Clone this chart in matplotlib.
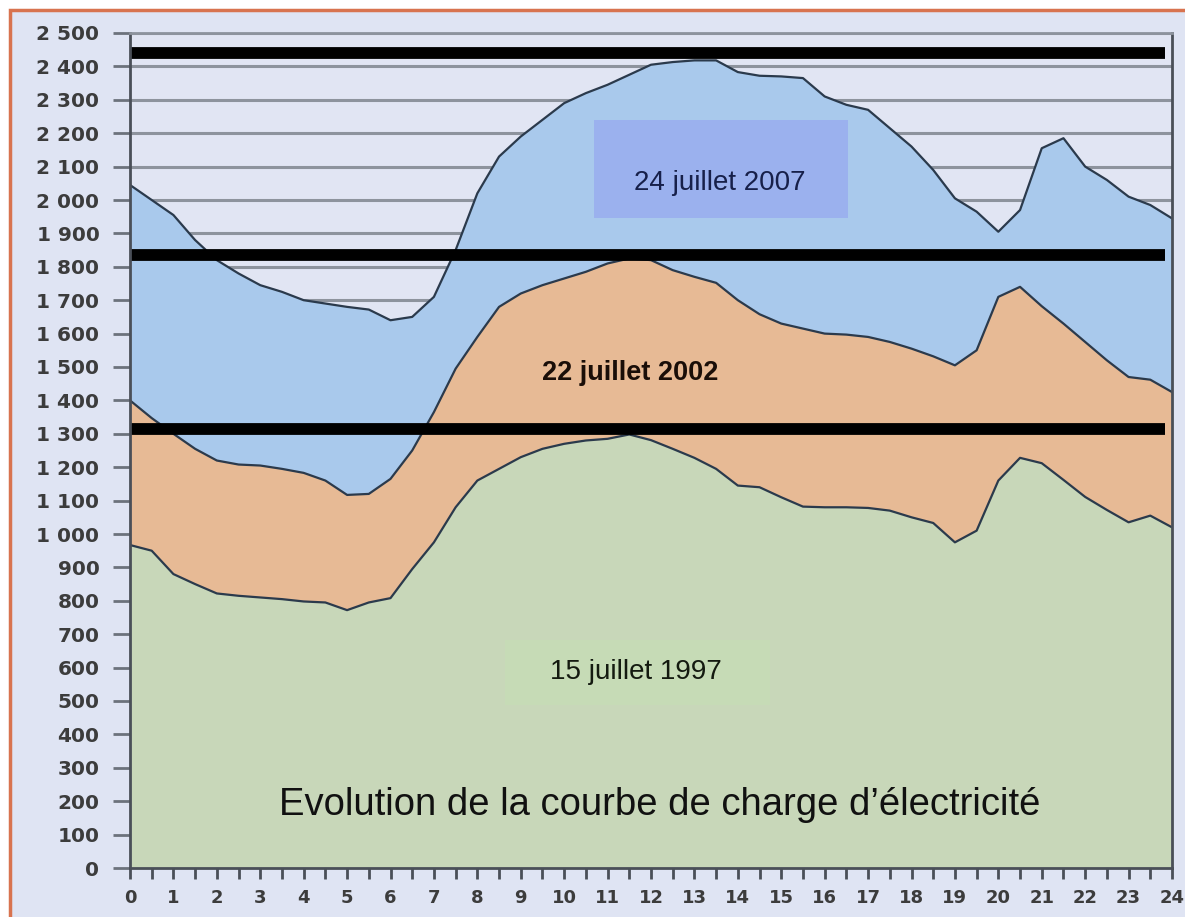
import numpy as np
import matplotlib
matplotlib.use("Agg")
import matplotlib.pyplot as plt
from matplotlib.patches import Rectangle


# -----------------------------------DATA---------------------------------------

hours = np.arange(0, 24.5, 0.5)

load_2007 = [2045, 2000, 1955, 1880, 1820, 1780, 1745, 1725, 1700, 1690,
             1680, 1672, 1640, 1650, 1710, 1850, 2020, 2130, 2190, 2240,
             2290, 2320, 2345, 2375, 2405, 2413, 2418, 2418, 2383, 2372,
             2370, 2365, 2310, 2285, 2270, 2215, 2160, 2090, 2005, 1965,
             1905, 1970, 2155, 2185, 2100, 2060, 2010, 1985, 1945]

load_2002 = [1400, 1347, 1300, 1255, 1220, 1208, 1205, 1195, 1183, 1160,
             1117, 1120, 1165, 1250, 1365, 1495, 1590, 1680, 1720, 1745,
             1765, 1785, 1810, 1825, 1820, 1790, 1770, 1752, 1700, 1658,
             1630, 1615, 1600, 1597, 1590, 1575, 1555, 1532, 1505, 1550,
             1710, 1740, 1682, 1630, 1575, 1520, 1470, 1462, 1425]

load_1997 = [967, 950, 880, 850, 822, 815, 810, 805, 798, 795,
             772, 795, 808, 895, 975, 1080, 1160, 1195, 1230, 1255,
             1270, 1280, 1285, 1298, 1281, 1255, 1228, 1195, 1145, 1140,
             1110, 1082, 1080, 1080, 1078, 1070, 1050, 1033, 975, 1010,
             1160, 1228, 1212, 1162, 1111, 1072, 1035, 1055, 1020]

peak_lines = [2440, 1835, 1315]

labels = ["24 juillet 2007", "22 juillet 2002", "15 juillet 1997"]
title = "Evolution de la courbe de charge d\u2019électricité"

ytick_values = np.arange(0, 2600, 100)
ytick_labels = [f"{v:,}".replace(",", " ") for v in ytick_values]
xtick_values = np.arange(0, 25, 1)

# -----------------------------------PLOT---------------------------------------

plt.rcParams["font.family"] = ["Liberation Sans", "DejaVu Sans"]

W, H = 1185, 917
fig = plt.figure(figsize=(W / 100, H / 100), dpi=100)
fig.patch.set_facecolor("white")

# page frame with orange border
frame = Rectangle((10 / W, -0.05), 1.1, (H - 10) / H + 0.05, transform=fig.transFigure,
                  facecolor="#dfe4f3", edgecolor="#d8734f", lw=2.5, zorder=-5)
fig.add_artist(frame)

ax = fig.add_axes([130 / W, 49 / H, (1172 - 130) / W, (868 - 33) / H])
ax.set_facecolor("#e1e5f3")

# grid under the areas
for v in ytick_values[1:]:
    ax.axhline(v, color="#8d939d", lw=2.2, zorder=1)

edge = "#2b3a4c"
ax.fill_between(hours, 0, load_2007, color="#a9c9ec", zorder=2)
ax.plot(hours, load_2007, color=edge, lw=1.6, zorder=3)
ax.fill_between(hours, 0, load_2002, color="#e7ba95", zorder=4)
ax.plot(hours, load_2002, color=edge, lw=1.6, zorder=5)
ax.fill_between(hours, 0, load_1997, color="#c8d7b9", zorder=6)
ax.plot(hours, load_1997, color=edge, lw=1.6, zorder=7)

# thick black peak lines
ax.hlines(peak_lines, 0, 23.85, color="black", lw=8.5, zorder=8)

# label boxes
ax.add_patch(Rectangle((10.69, 1946), 5.85, 294, facecolor="#9bb1ee", edgecolor="none", zorder=9))
ax.add_patch(Rectangle((8.64, 488), 6.1, 195, facecolor="#c6dbb6", edgecolor="none", zorder=9))

ax.text(13.59, 2051, labels[0], ha="center", va="center", fontsize=20, color="#17204a", zorder=10)
ax.text(11.52, 1482, labels[1], ha="center", va="center", fontsize=19.5, color="#1a0e08",
        fontweight="bold", zorder=10)
ax.text(11.66, 588, labels[2], ha="center", va="center", fontsize=20, color="#141a10", zorder=10)
ax.text(12.2, 188, title, ha="center", va="center", fontsize=27.5, color="#111111", zorder=10)

ax.set_xlim(0, 24)
ax.set_ylim(0, 2500)

ax.set_yticks(ytick_values)
ax.set_yticklabels(ytick_labels, fontsize=14.5, color="#3c3c3c", fontweight="bold",
                   family=["DejaVu Sans"])
ax.set_xticks(xtick_values)
ax.set_xticklabels([str(v) for v in xtick_values], fontsize=13, color="#3c3c3c",
                   fontweight="bold", family=["DejaVu Sans"])
ax.set_xticks(np.arange(0.5, 24, 1), minor=True)
ax.tick_params(axis="y", length=12, width=2, color="#6c727c", pad=10)
ax.tick_params(axis="x", which="both", length=8, width=2, color="#4a4f58", pad=7)

for side in ["left", "bottom", "right"]:
    ax.spines[side].set_color("#4a4f58")
    ax.spines[side].set_linewidth(2)
ax.spines["top"].set_color("#8d939d")
ax.spines["top"].set_linewidth(2)
for sp in ax.spines.values():
    sp.set_zorder(12)

fig.savefig("out.png", dpi=100)
